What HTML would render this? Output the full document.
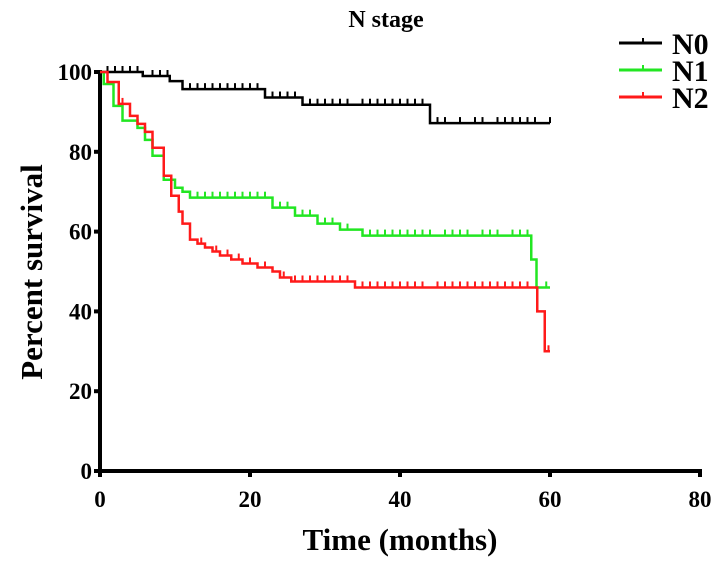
<!DOCTYPE html>
<html><head><meta charset="utf-8"><style>
body{margin:0;background:#fff}
svg{display:block;font-family:"Liberation Serif",serif;font-weight:bold}
</style></head><body>
<svg id="chart" width="724" height="570" viewBox="0 0 724 570"></svg>
<script>
const xTicks=[0,20,40,60,80];
const yTicks=[0,20,40,60,80,100];
const n0Times=[0,5.7,9.3,11,22,27,44,60];
const n0Surv=[100,99,97.7,95.7,93.6,91.8,87.2,87.2];
const n0Censor=[1,2,3,4,5,7,8,9,12,13,14,15,16,17,18,19,20,21,23,24,25,26,28,29,30,31,32,33,35,36,37,38,39,40,41,42,43,45,46,48,50,51,53,54,55,56,57,58,60];
const n1Times=[0,0.5,1.8,3,5,6,7,8.5,10,11,12,23,26,29,32,35,57.5,58.2,60];
const n1Surv=[100,97,91.5,87.8,86,83,79,73,71,70,68.5,66,64,62,60.5,59,53,46,46];
const n1Censor=[13,14,15,16,17,18,19,20,21,22,24,25,27,28,30,31,33,36,37,38,39,40,41,42,43,44,46,47,48,49,51,52,53,55,56,57,59.5];
const n2Times=[0,1,2.5,4,5,6,7,8.5,9.5,10.5,11,12,13,14,15,16,17.5,19,21,23,24,25.5,34,58.3,59.3,60];
const n2Surv=[100,97.5,92,89,87,85,81,74,69,65,62,58,57,56,55,54,53,52,51,50,48.5,47.5,46,40,30,30];
const n2Censor=[3,13.5,15.5,17,18.5,20,22,24.5,26,27,28,29,30,31,32,33,35,36,37,38,39,40,41,42,43,45,46,47,48,49,50,51,52,53,54,55,56,57,59.8];
const xS=t=>100+t*7.5, yS=s=>471-s*3.99;
const NS='http://www.w3.org/2000/svg', svg=document.getElementById('chart');
function mk(tag,at,txt){const e=document.createElementNS(NS,tag);for(const k in at)e.setAttribute(k,at[k]);if(txt!=null)e.textContent=txt;svg.appendChild(e);return e;}
let ax=mk('path',{d:`M100,${yS(100)-2}V${yS(0)}H${xS(80)+2}`,fill:'none',stroke:'#000','stroke-width':4});


yTicks.forEach(v=>{
 let t=mk('line',{x1:94,x2:100,y1:yS(v),y2:yS(v),stroke:'#000','stroke-width':4});
 
 
 let l=mk('text',{x:92,y:yS(v)+8,'text-anchor':'end','font-size':23},v);
 
 
});
xTicks.forEach(v=>{
 let t=mk('line',{x1:xS(v),x2:xS(v),y1:yS(0),y2:yS(0)+6,stroke:'#000','stroke-width':4});
 
 
 let l=mk('text',{x:xS(v),y:507,'text-anchor':'middle','font-size':23},v);
 
 
});
let tt=mk('text',{x:386,y:27,'text-anchor':'middle','font-size':24},'N stage');


let xt=mk('text',{x:400,y:550,'text-anchor':'middle','font-size':31},'Time (months)');


let yt=mk('text',{x:42,y:272,'text-anchor':'middle','font-size':31,transform:'rotate(-90 42 272)'},'Percent survival');


function survAt(T,S,t){let s=S[0];for(let i=0;i<T.length;i++){if(T[i]<=t)s=S[i];}return s;}
function series(T,S,C,color,name){
 let d=`M${xS(T[0])},${yS(S[0])}`;
 for(let i=1;i<T.length;i++){d+=`H${xS(T[i])}V${yS(S[i])}`;}
 let p=mk('path',{d:d,fill:'none',stroke:color,'stroke-width':2.5});
 
 
 C.forEach(c=>{const y=yS(survAt(T,S,c));
  let m=mk('line',{x1:xS(c),x2:xS(c),y1:y,y2:y-6,stroke:color,'stroke-width':2});
  
  
 });
}
series(n0Times,n0Surv,n0Censor,'#000','n0');
series(n1Times,n1Surv,n1Censor,'#22e622','n1');
series(n2Times,n2Surv,n2Censor,'#ff1a1a','n2');
[['N0','#000',43],['N1','#22e622',70],['N2','#ff1a1a',97]].forEach(([n,c,y])=>{
 let g=mk('line',{x1:619,x2:662,y1:y,y2:y,stroke:c,'stroke-width':3});
 
 
 let tk=mk('line',{x1:643,x2:643,y1:y,y2:y-5,stroke:c,'stroke-width':2});
 
 
 let l=mk('text',{x:672,y:y+11,'font-size':30},n);
 
 
});
</script>
</body></html>
